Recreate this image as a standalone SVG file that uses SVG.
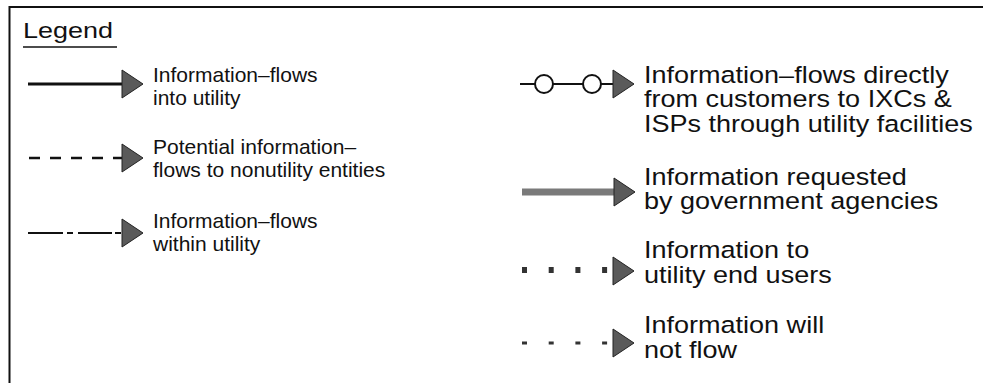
<svg xmlns="http://www.w3.org/2000/svg" width="983" height="383" viewBox="0 0 983 383">
<style>
text{font-family:"Liberation Sans",Arial,sans-serif;fill:#111}
.l{font-size:21px}
.r{font-size:23.5px}
.head{fill:#5a5a5a;stroke:#222;stroke-width:1}
.ln{stroke:#111;fill:none}
</style>
<defs>
<path id="ah" d="M0,-14 L21,0 L0,14 Z"/>
</defs>
<g id="frame">
<path d="M9.5,383 V7 H983" class="ln" stroke-width="2"/>
</g>
<g id="title">
<text x="23" y="38" style="font-size:22px" textLength="90" lengthAdjust="spacingAndGlyphs">Legend</text>
<line x1="23" y1="47" x2="117" y2="47" class="ln" stroke-width="1.5"/>
</g>
<g id="connectors">
<line x1="28" y1="84" x2="123" y2="84" class="ln" stroke-width="3"/>
<use href="#ah" x="122" y="84" class="head"/>
<line x1="29" y1="158" x2="123" y2="158" class="ln" stroke-width="2.5" stroke-dasharray="11,10"/>
<use href="#ah" x="122" y="158" class="head"/>
<line x1="28" y1="233" x2="123" y2="233" class="ln" stroke-width="2" stroke-dasharray="35,4,6,5,34,3,6"/>
<use href="#ah" x="122" y="233" class="head"/>
<line x1="520" y1="84" x2="614" y2="84" class="ln" stroke-width="2"/>
<circle cx="544" cy="84" r="9" fill="#fff" stroke="#111" stroke-width="2"/>
<circle cx="592" cy="84" r="9" fill="#fff" stroke="#111" stroke-width="2"/>
<use href="#ah" x="613" y="84" class="head"/>
<line x1="522" y1="192" x2="624" y2="192" stroke="#7a7a7a" stroke-width="7"/>
<use href="#ah" x="614" y="192" class="head"/>
<line x1="522" y1="270" x2="608" y2="270" stroke="#333" stroke-width="6" stroke-dasharray="5,21.7"/>
<use href="#ah" x="613" y="271" class="head"/>
<line x1="522" y1="343" x2="608" y2="343" stroke="#333" stroke-width="3" stroke-dasharray="5,21.7"/>
<use href="#ah" x="613" y="343" class="head"/>
</g>
<g id="item1"><text class="l" x="153" y="82">Information–flows</text><text class="l" x="153" y="105">into utility</text></g>
<g id="item2"><text class="l" x="153" y="154">Potential information–</text><text class="l" x="153" y="177">flows to nonutility entities</text></g>
<g id="item3"><text class="l" x="153" y="228">Information–flows</text><text class="l" x="153" y="251">within utility</text></g>
<g id="right-items" transform="translate(644,0) scale(1.15,1) translate(-644,0)">
<g id="item4"><text class="r" x="644" y="83">Information–flows directly</text><text class="r" x="644" y="107">from customers to IXCs &amp;</text><text class="r" x="644" y="132">ISPs through utility facilities</text></g>
<g id="item5"><text class="r" x="644" y="185">Information requested</text><text class="r" x="644" y="209">by government agencies</text></g>
<g id="item6"><text class="r" x="644" y="258">Information to</text><text class="r" x="644" y="283">utility end users</text></g>
<g id="item7"><text class="r" x="644" y="333">Information will</text><text class="r" x="644" y="358">not flow</text></g>
</g>
</svg>
